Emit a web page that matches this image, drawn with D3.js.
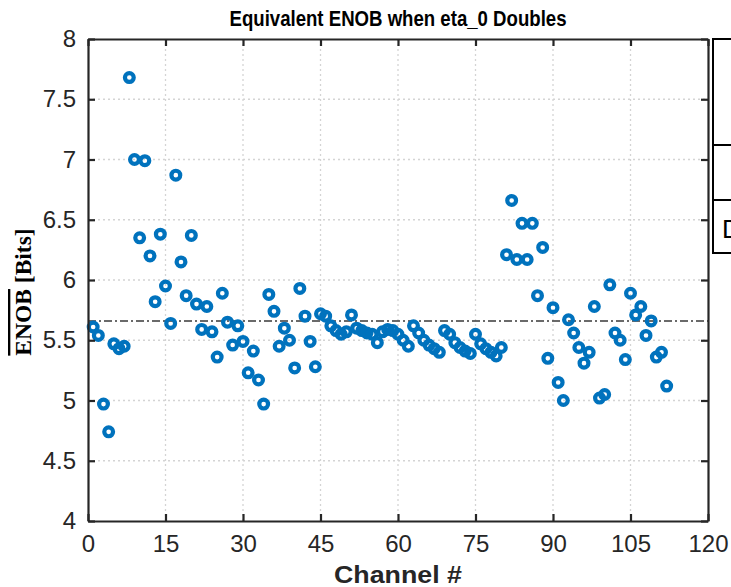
<!DOCTYPE html>
<html>
<head>
<meta charset="utf-8">
<script src="https://cdn.jsdelivr.net/npm/d3@7"></script>
<style>
  html, body { margin: 0; padding: 0; background: #fff; }
  svg { display: block; }
</style>
</head>
<body>
<svg id="chart" width="731" height="587"></svg>
<script>
// Equivalent ENOB per channel when eta_0 doubles
const channels = d3.range(1, 113);
const enob = [
  5.61, 5.54, 4.97, 4.74, 5.47, 5.43, 5.45, 7.68, 7.00, 6.35,
  6.99, 6.20, 5.82, 6.38, 5.95, 5.64, 6.87, 6.15, 5.87, 6.37,
  5.80, 5.59, 5.78, 5.57, 5.36, 5.89, 5.65, 5.46, 5.62, 5.49,
  5.23, 5.41, 5.17, 4.97, 5.88, 5.74, 5.45, 5.60, 5.50, 5.27,
  5.93, 5.70, 5.49, 5.28, 5.72, 5.70, 5.62, 5.58, 5.55, 5.57,
  5.71, 5.60, 5.58, 5.56, 5.55, 5.48, 5.57, 5.59, 5.58, 5.55,
  5.50, 5.45, 5.62, 5.56, 5.50, 5.46, 5.43, 5.40, 5.58, 5.55,
  5.48, 5.44, 5.41, 5.39, 5.55, 5.47, 5.43, 5.40, 5.37, 5.44,
  6.21, 6.66, 6.17, 6.47, 6.17, 6.47, 5.87, 6.27, 5.35, 5.77,
  5.15, 5.00, 5.67, 5.56, 5.44, 5.31, 5.40, 5.78, 5.02, 5.05,
  5.96, 5.56, 5.50, 5.34, 5.89, 5.71, 5.78, 5.54, 5.66, 5.36,
  5.40, 5.12
];
const meanEnob = 5.66;
const xTicks = [0, 15, 30, 45, 60, 75, 90, 105, 120];
const yTicks = [4, 4.5, 5, 5.5, 6, 6.5, 7, 7.5, 8];

const titleText = "Equivalent ENOB when eta_0 Doubles";
const xLabel = "Channel #";

const svg = d3.select("#chart");
const m = { left: 88, right: 708, top: 39, bottom: 521 };
const axisColor = "#262626";
const font = "'Liberation Sans', Arial, sans-serif";

const x = d3.scaleLinear().domain([0, 120]).range([m.left, m.right]);
const y = d3.scaleLinear().domain([4, 8]).range([m.bottom, m.top]);

// dotted grid
const grid = svg.append("g");
grid.selectAll("line.gx").data(xTicks.slice(1, -1)).join("line")
  .attr("x1", d => x(d)).attr("x2", d => x(d))
  .attr("y1", m.top).attr("y2", m.bottom)
  .attr("stroke", "#d4d4d4").attr("stroke-width", 1.3).attr("stroke-dasharray", "2,3");
grid.selectAll("line.gy").data(yTicks.slice(1, -1)).join("line")
  .attr("y1", d => y(d)).attr("y2", d => y(d))
  .attr("x1", m.left).attr("x2", m.right)
  .attr("stroke", "#d4d4d4").attr("stroke-width", 1.3).attr("stroke-dasharray", "2,3");

// mean line
svg.append("line")
  .attr("x1", m.left).attr("x2", m.right)
  .attr("y1", y(meanEnob)).attr("y2", y(meanEnob))
  .attr("stroke", "#3a3a3a").attr("stroke-width", 1.4)
  .attr("stroke-dasharray", "8,3,2,3");

// data markers
svg.append("g").selectAll("circle").data(channels).join("circle")
  .attr("cx", (d) => x(d))
  .attr("cy", (d, i) => y(enob[i]))
  .attr("r", 4.4)
  .attr("fill", "none")
  .attr("stroke", "#0072BD")
  .attr("stroke-width", 4.2);

// axes (box with inward ticks on all sides)
const tickLen = 7;
const bottomAxis = d3.axisBottom(x).tickValues(xTicks).tickSizeInner(-tickLen).tickSizeOuter(0).tickPadding(14).tickFormat(d3.format("d"));
const topAxis = d3.axisTop(x).tickValues(xTicks).tickSizeInner(-tickLen).tickSizeOuter(0).tickFormat("");
const leftAxis = d3.axisLeft(y).tickValues(yTicks).tickSizeInner(-tickLen).tickSizeOuter(0).tickPadding(12).tickFormat(d3.format("~g"));
const rightAxis = d3.axisRight(y).tickValues(yTicks).tickSizeInner(-tickLen).tickSizeOuter(0).tickFormat("");

function styleAxis(g) {
  g.select(".domain").attr("stroke", axisColor).attr("stroke-width", 2.2);
  g.selectAll(".tick line").attr("stroke", axisColor).attr("stroke-width", 2.2);
  g.selectAll(".tick text").attr("fill", axisColor).style("font-family", font).style("font-size", "24px");
}
svg.append("g").attr("transform", `translate(0,${m.bottom})`).call(bottomAxis).call(styleAxis);
svg.append("g").attr("transform", `translate(0,${m.top})`).call(topAxis).call(styleAxis);
svg.append("g").attr("transform", `translate(${m.left},0)`).call(leftAxis).call(styleAxis);
svg.append("g").attr("transform", `translate(${m.right},0)`).call(rightAxis).call(styleAxis);

// title
svg.append("text")
  .attr("x", (m.left + m.right) / 2).attr("y", 26)
  .attr("text-anchor", "middle")
  .attr("textLength", 337).attr("lengthAdjust", "spacingAndGlyphs")
  .style("font-family", font).style("font-weight", "bold").style("font-size", "22.5px")
  .attr("fill", "#000")
  .text(titleText);

// x label
svg.append("text")
  .attr("x", (m.left + m.right) / 2).attr("y", 583)
  .attr("text-anchor", "middle")
  .attr("textLength", 128).attr("lengthAdjust", "spacingAndGlyphs")
  .style("font-family", font).style("font-weight", "bold").style("font-size", "24px")
  .attr("fill", axisColor)
  .text(xLabel);

// y label with overlined ENOB
const yl = svg.append("text")
  .attr("transform", "translate(31,292) rotate(-90)")
  .attr("text-anchor", "middle")
  .style("font-family", "'Liberation Serif', 'Times New Roman', serif")
  .style("font-weight", "bold").style("font-size", "23.5px")
  .attr("fill", "#000");
yl.append("tspan").style("text-decoration", "overline").text("ENOB");
yl.append("tspan").text(" [Bits]");

// legend panel partially outside the figure
const lg = svg.append("g");
lg.append("rect").attr("x", 713).attr("y", 39).attr("width", 40).attr("height", 214)
  .attr("fill", "#fff").attr("stroke", "#000").attr("stroke-width", 2);
lg.append("line").attr("x1", 713).attr("x2", 731).attr("y1", 145).attr("y2", 145)
  .attr("stroke", "#000").attr("stroke-width", 2);
lg.append("line").attr("x1", 713).attr("x2", 731).attr("y1", 200).attr("y2", 200)
  .attr("stroke", "#000").attr("stroke-width", 2);
lg.append("text").attr("x", 722).attr("y", 238)
  .style("font-family", font).style("font-size", "26px").attr("fill", "#000")
  .text("D");
</script>
</body>
</html>
